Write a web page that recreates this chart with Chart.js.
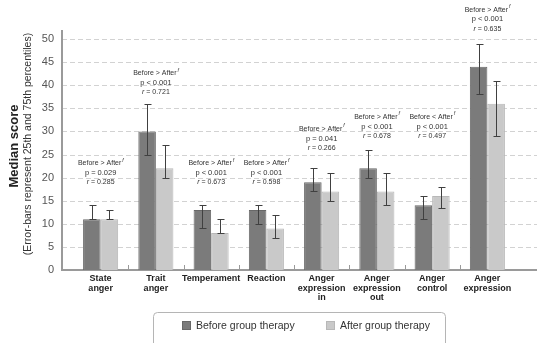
<!DOCTYPE html>
<html>
<head>
<meta charset="utf-8">
<script src="https://cdn.jsdelivr.net/npm/chart.js@4"></script>
<style>
  html, body { margin: 0; padding: 0; background: #fff; }
  #wrap { width: 550px; height: 343px; }
</style>
</head>
<body>
<div id="wrap"><canvas id="chart" width="550" height="343"></canvas></div>
<script>
let categories = [["State", "anger"], ["Trait", "anger"], "Temperament", "Reaction",
    ["Anger", "expression", "in"], ["Anger", "expression", "out"], ["Anger", "control"], ["Anger", "expression"]];

let beforeMedian = [11, 30, 13, 13, 19, 22, 14, 44];
let beforeP25 = [11, 25, 9, 10, 17, 20, 11, 38];
let beforeP75 = [14, 36, 14, 14, 22, 26, 16, 49];

let afterMedian = [11, 22, 8, 9, 17, 17, 16, 36];
let afterP25 = [11, 20, 8, 7, 15, 14, 13.5, 29];
let afterP75 = [13, 27, 11, 12, 21, 21, 18, 41];

let compareText = ["Before > After", "Before > After", "Before > After", "Before > After",
    "Before > After", "Before > After", "Before < After", "Before > After"];
let pText = ["p = 0.029", "p < 0.001", "p < 0.001", "p < 0.001", "p = 0.041", "p < 0.001", "p < 0.001", "p < 0.001"];
let rText = ["0.285", "0.721", "0.673", "0.598", "0.266", "0.678", "0.497", "0.635"];
// y value where the last annotation line sits
let noteAnchor = [19, 38.5, 19, 19, 26.4, 29, 29, 52.2];

let yTicks = [0, 5, 10, 15, 20, 25, 30, 35, 40, 45, 50];

const fontFamily = "'Liberation Sans', Arial, Helvetica, sans-serif";
const darkGray = "#7b7b7b";
const lightGray = "#c9c9c9";

const decorations = {
    id: "decorations",
    beforeDatasetsDraw(chart) {
        const { ctx, scales: { x, y } } = chart;
        const left = 62, right = 537;
        const y0 = y.getPixelForValue(0);
        ctx.save();
        // dashed grid
        ctx.strokeStyle = "#d2d2d2";
        ctx.lineWidth = 1;
        ctx.setLineDash([5, 3]);
        yTicks.forEach(v => {
            if (v === 0) return;
            const py = Math.round(y.getPixelForValue(v)) + 0.5;
            ctx.beginPath();
            ctx.moveTo(left, py);
            ctx.lineTo(right, py);
            ctx.stroke();
        });
        ctx.setLineDash([]);
        // axes
        ctx.strokeStyle = "#9a9a9a";
        ctx.lineWidth = 2;
        ctx.beginPath();
        ctx.moveTo(left, 30);
        ctx.lineTo(left, y0 + 1);
        ctx.moveTo(left - 1, y0);
        ctx.lineTo(right, y0);
        ctx.stroke();
        // category ticks
        ctx.lineWidth = 1;
        const half = (x.getPixelForValue(1) - x.getPixelForValue(0)) / 2;
        for (let i = 0; i < categories.length - 1; i++) {
            const px = Math.round(x.getPixelForValue(i) + half) + 0.5;
            ctx.beginPath();
            ctx.moveTo(px, y0 - 5);
            ctx.lineTo(px, y0);
            ctx.stroke();
        }
        ctx.restore();
    },
    afterDatasetsDraw(chart) {
        const { ctx, scales: { x, y } } = chart;
        ctx.save();
        // error bars
        ctx.strokeStyle = "#404040";
        ctx.lineWidth = 1;
        const lows = [beforeP25, afterP25];
        const highs = [beforeP75, afterP75];
        chart.data.datasets.forEach((ds, d) => {
            chart.getDatasetMeta(d).data.forEach((bar, i) => {
                const px = Math.round(bar.x) + 0.5;
                const lo = Math.round(y.getPixelForValue(lows[d][i])) + 0.5;
                const hi = Math.round(y.getPixelForValue(highs[d][i])) + 0.5;
                ctx.beginPath();
                ctx.moveTo(px, lo); ctx.lineTo(px, hi);
                ctx.moveTo(px - 3, lo); ctx.lineTo(px + 4, lo);
                ctx.moveTo(px - 3, hi); ctx.lineTo(px + 4, hi);
                ctx.stroke();
            });
        });
        // annotations
        ctx.fillStyle = "#333";
        ctx.textBaseline = "middle";
        categories.forEach((c, i) => {
            const cx = x.getPixelForValue(i);
            const yb = y.getPixelForValue(noteAnchor[i]);
            // line 1 with superscript mark
            ctx.font = "7px " + fontFamily;
            const w1 = ctx.measureText(compareText[i]).width;
            ctx.textAlign = "left";
            ctx.fillText(compareText[i], cx - w1 / 2 - 1, yb - 19);
            ctx.font = "italic 5px " + fontFamily;
            ctx.fillText("f", cx + w1 / 2, yb - 22);
            // line 2
            ctx.font = "7.5px " + fontFamily;
            ctx.textAlign = "center";
            ctx.fillText(pText[i], cx, yb - 9.5);
            // line 3, italic r
            const rest = " = " + rText[i];
            ctx.font = "7px " + fontFamily;
            const wr = ctx.measureText(rest).width;
            ctx.font = "italic 7px " + fontFamily;
            const wi = ctx.measureText("r").width;
            const sx = cx - (wr + wi) / 2;
            ctx.textAlign = "left";
            ctx.fillText("r", sx, yb);
            ctx.font = "7px " + fontFamily;
            ctx.fillText(rest, sx + wi, yb);
        });
        ctx.restore();
    },
    afterDraw(chart) {
        const { ctx } = chart;
        ctx.save();
        // y-axis titles
        ctx.fillStyle = "#222";
        ctx.textAlign = "center";
        ctx.textBaseline = "middle";
        ctx.translate(14, 146);
        ctx.rotate(-Math.PI / 2);
        ctx.font = "bold 13px " + fontFamily;
        ctx.fillText("Median score", 0, 0);
        ctx.font = "10.5px " + fontFamily;
        ctx.fillStyle = "#333";
        ctx.fillText("(Error-bars represent 25th and 75th percentiles)", 2, 14);
        ctx.restore();

        // legend box
        ctx.save();
        ctx.strokeStyle = "#b5b5b5";
        ctx.lineWidth = 1;
        ctx.beginPath();
        ctx.roundRect(153.5, 312.5, 292, 40, 4);
        ctx.stroke();
        const items = [[182, 0], [326, 1]];
        ctx.font = "10.5px " + fontFamily;
        ctx.textBaseline = "middle";
        ctx.textAlign = "left";
        items.forEach(([lx, d]) => {
            const ds = chart.data.datasets[d];
            ctx.fillStyle = ds.backgroundColor;
            ctx.fillRect(lx, 321, 9, 9);
            ctx.strokeStyle = ds.borderColor;
            ctx.strokeRect(lx + 0.5, 321.5, 8, 8);
            ctx.fillStyle = "#333";
            ctx.fillText(ds.label, lx + 14, 326);
        });
        ctx.restore();
    }
};

new Chart("chart", {
    type: "bar",
    data: {
        labels: categories,
        datasets: [
            { label: "Before group therapy", data: beforeMedian, backgroundColor: darkGray, borderColor: "#686868", borderWidth: 1 },
            { label: "After group therapy", data: afterMedian, backgroundColor: lightGray, borderColor: "#b8b8b8", borderWidth: 1 },
        ],
    },
    options: {
        responsive: false,
        animation: false,
        categoryPercentage: 0.635,
        barPercentage: 1.0,
        layout: { padding: { left: 0, right: 35, top: 39, bottom: 0 } },
        plugins: {
            legend: { display: false },
            tooltip: { enabled: false },
        },
        scales: {
            x: {
                grid: { display: false, drawTicks: false },
                border: { display: false },
                ticks: {
                    color: "#222",
                    font: { family: fontFamily, size: 9, weight: "bold", lineHeight: 1.05 },
                    padding: 4,
                    maxRotation: 0,
                    autoSkip: false,
                },
                afterFit(scale) { scale.height = 73; },
            },
            y: {
                min: 0,
                max: 50,
                grid: { display: false, drawTicks: false },
                border: { display: false },
                ticks: {
                    stepSize: 5,
                    color: "#555",
                    padding: 19,
                    font: { family: fontFamily, size: 11 },
                },
                afterFit(scale) { scale.width = 73; },
            },
        },
    },
    plugins: [decorations],
});
</script>
</body>
</html>
